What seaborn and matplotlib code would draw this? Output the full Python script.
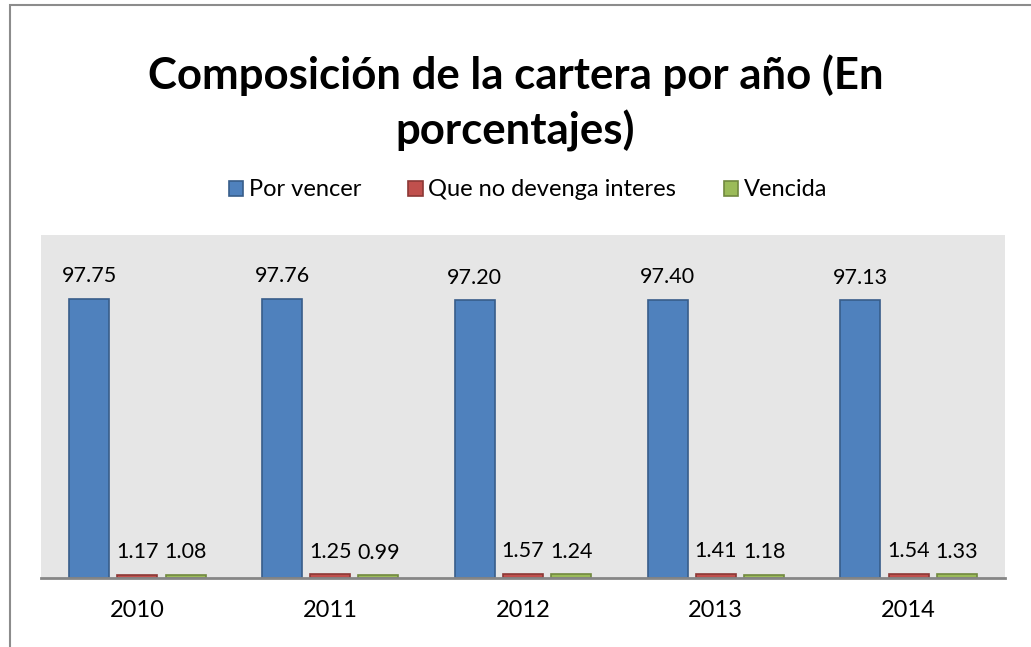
import pandas as pd
import seaborn as sns
import matplotlib.pyplot as plt
from matplotlib.patches import Patch, Rectangle

# Data
years = ["2010", "2011", "2012", "2013", "2014"]
por_vencer = [97.75, 97.76, 97.20, 97.40, 97.13]
no_devenga = [1.17, 1.25, 1.57, 1.41, 1.54]
vencida = [1.08, 0.99, 1.24, 1.18, 1.33]
series_names = ["Por vencer", "Que no devenga interes", "Vencida"]

fills = ["#4F81BD", "#C0504D", "#9BBB59"]
edges = ["#385D8A", "#8C3836", "#71893F"]

df = pd.DataFrame({
    "year": years * 3,
    "serie": [series_names[0]] * 5 + [series_names[1]] * 5 + [series_names[2]] * 5,
    "value": por_vencer + no_devenga + vencida,
})

sns.set_style("white")
plt.rcParams["font.family"] = ["Lato", "DejaVu Sans"]
plt.rcParams["text.color"] = "black"
plt.rcParams["xtick.color"] = "black"

fig = plt.figure(figsize=(10.31, 6.47), dpi=100)
ax = fig.add_axes([41 / 1031, 69 / 647, 964 / 1031, 343 / 647])

sns.barplot(
    data=df, x="year", y="value", hue="serie",
    order=years, hue_order=series_names,
    palette=dict(zip(series_names, fills)), saturation=1,
    width=0.75, gap=0.17, ax=ax, legend=False,
)

for cont, ec in zip(ax.containers, edges):
    for bar in cont:
        bar.set_edgecolor(ec)
        bar.set_linewidth(1.2)
    ax.bar_label(cont, fmt="%.2f", padding=9, fontsize=15.5, color="black")

ax.set_ylim(0, 120)
ax.set_xlim(-0.5, 4.5)
ax.set_facecolor("#E6E6E6")
ax.set_yticks([])
ax.set_xlabel("")
ax.set_ylabel("")
for side in ["top", "right", "left"]:
    ax.spines[side].set_visible(False)
ax.spines["bottom"].set_color("#868686")
ax.spines["bottom"].set_linewidth(2)
ax.tick_params(axis="x", length=0, labelsize=17, pad=16, labelcolor="black")

fig.text(0.5, 1 - 103 / 647, "Composición de la cartera por año (En\nporcentajes)",
         ha="center", va="center", fontsize=31.5, fontweight="bold",
         linespacing=1.4, color="black")

handles = [Patch(facecolor=f, edgecolor=e, linewidth=1.2) for f, e in zip(fills, edges)]
fig.legend(handles, series_names, loc="center", bbox_to_anchor=(0.512, 1 - 190 / 647),
           ncol=3, frameon=False, fontsize=17, handlelength=0.6, handleheight=0.6,
           handletextpad=0.25, columnspacing=2.0, labelcolor="black")

# outer chart border
fig.patches.append(Rectangle((10 / 1031, -0.1), 1.2, 1 - 5 / 647 + 0.1,
                             transform=fig.transFigure, fill=False,
                             edgecolor="#8C8C8C", linewidth=1.5))

fig.savefig("out.png", dpi=100)
